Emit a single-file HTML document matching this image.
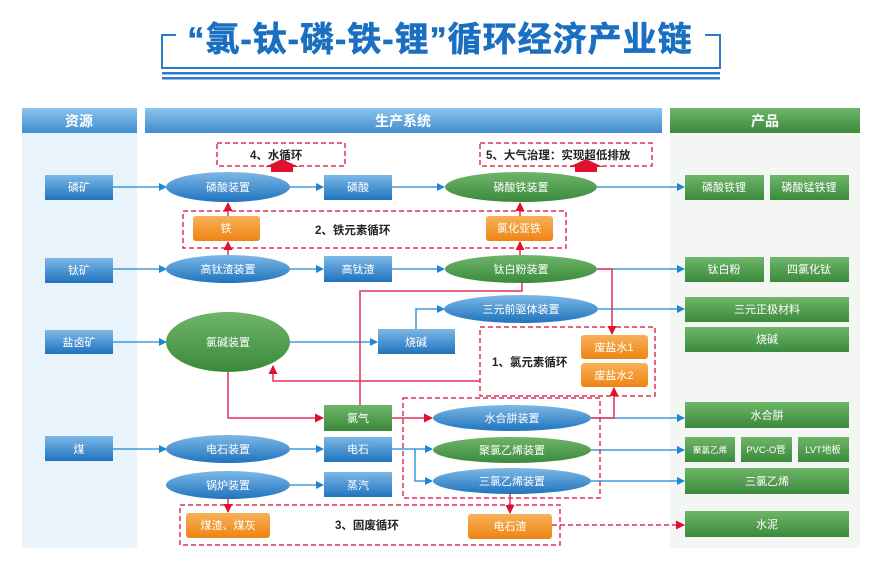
<!DOCTYPE html>
<html><head><meta charset="utf-8"><style>
body{margin:0;background:#fff;}
svg text{font-family:"Liberation Sans","Noto Sans CJK SC",sans-serif;}
</style></head><body>
<svg width="873" height="560" viewBox="0 0 873 560" xmlns="http://www.w3.org/2000/svg">
<defs>
<linearGradient id="bl" x1="0" y1="0" x2="0" y2="1"><stop offset="0" stop-color="#7db8e6"/><stop offset="1" stop-color="#1f73be"/></linearGradient>
<linearGradient id="gr" x1="0" y1="0" x2="0" y2="1"><stop offset="0" stop-color="#6fb56a"/><stop offset="1" stop-color="#3a8a3c"/></linearGradient>
<linearGradient id="or" x1="0" y1="0" x2="0" y2="1"><stop offset="0" stop-color="#f7b159"/><stop offset="1" stop-color="#ee8413"/></linearGradient>
<linearGradient id="hb" x1="0" y1="0" x2="0" y2="1"><stop offset="0" stop-color="#8cc4ec"/><stop offset="1" stop-color="#3f8cd0"/></linearGradient>
<marker id="ab" markerWidth="8" markerHeight="8" refX="7" refY="4" orient="auto" markerUnits="userSpaceOnUse"><path d="M0,0 L8,4 L0,8z" fill="#1d87d4"/></marker>
<marker id="ar" markerWidth="9" markerHeight="9" refX="8" refY="4.5" orient="auto" markerUnits="userSpaceOnUse"><path d="M0,0 L9,4.5 L0,9z" fill="#e01030"/></marker>
</defs>
<!-- title -->
<g stroke="#2a7cc7" stroke-width="2" fill="none">
<path d="M176,35 H162 V68 H720 V35 H705"/>
</g>
<rect x="162" y="72" width="558" height="2.5" fill="#2a7cc7"/>
<rect x="162" y="77" width="558" height="2.5" fill="#2a7cc7"/>
<text x="440" y="51" font-size="34" font-weight="bold" fill="#1a6fc0" text-anchor="middle" letter-spacing="1" stroke="#1a6fc0" stroke-width="0.6">“氯-钛-磷-铁-锂”循环经济产业链</text>
<!-- panels -->
<rect x="22" y="133" width="115" height="415" fill="#e8f3fb"/>
<rect x="670" y="133" width="190" height="415" fill="#f3f6f2"/>
<rect x="22" y="108" width="115" height="25" fill="url(#hb)"/>
<rect x="145" y="108" width="517" height="25" fill="url(#hb)"/>
<rect x="670" y="108" width="190" height="25" fill="url(#gr)"/>
<g font-size="14" fill="#fff" text-anchor="middle" font-weight="bold">
<text x="79" y="126">资源</text><text x="403" y="126">生产系统</text><text x="765" y="126">产品</text>
</g>
<!-- dashed boxes -->
<g fill="none" stroke="#e0305a" stroke-width="1.5" stroke-dasharray="5,3">
<rect x="217" y="143" width="128" height="23"/>
<rect x="480" y="143" width="172" height="23"/>
<rect x="183" y="211" width="383" height="37"/>
<rect x="480" y="327" width="175" height="69"/>
<rect x="403" y="398" width="197" height="100"/>
<rect x="180" y="505" width="380" height="40"/>
</g>
<g font-size="11.5" font-weight="bold" fill="#222">
<text x="250" y="159">4、水循环</text>
<text x="486" y="159">5、大气治理：实现超低排放</text>
<text x="315" y="234">2、铁元素循环</text>
<text x="492" y="366">1、氯元素循环</text>
<text x="335" y="529">3、固废循环</text>
</g>
<!-- blue lines -->
<g stroke="#1d87d4" stroke-width="1.3" fill="none" marker-end="url(#ab)">
<path d="M113,187 H166"/><path d="M290,187 H323"/><path d="M392,187 H444"/><path d="M597,187 H684"/>
<path d="M113,269 H166"/><path d="M290,269 H323"/><path d="M392,269 H444"/><path d="M597,269 H684"/>
<path d="M113,342 H166"/><path d="M290,342 H377"/><path d="M416,329 V309 H444"/><path d="M598,309 H684"/>
<path d="M113,449 H166"/><path d="M290,449 H323"/><path d="M290,485 H323"/>
<path d="M392,449 H432"/><path d="M415,449 V481 H432"/>
<path d="M591,418 H684"/><path d="M591,450 H684"/><path d="M591,481 H684"/>
</g>
<!-- red lines -->
<g stroke="#e0305a" stroke-width="1.5" fill="none">
<path d="M228,372 V418 H323" marker-end="url(#ar)"/>
<path d="M392,418 H432" marker-end="url(#ar)"/>
<path d="M360,405 V291 H522 V283"/>
<path d="M597,269 H612 V334" marker-end="url(#ar)"/>
<path d="M480,381 H273 V366" marker-end="url(#ar)"/>
<path d="M591,418 H614 V388" marker-end="url(#ar)"/>
<path d="M228,216 V203" marker-end="url(#ar)"/>
<path d="M228,256 V242" marker-end="url(#ar)"/>
<path d="M520,255 V242" marker-end="url(#ar)"/>
<path d="M520,216 V203" marker-end="url(#ar)"/>
<path d="M228,499 V512" marker-end="url(#ar)"/>
<path d="M510,494 V513" marker-end="url(#ar)"/>
<path d="M552,525 H684" stroke-dasharray="5,3" marker-end="url(#ar)"/>
</g>
<path d="M271,174 L271,169 L265,169 L282,161 L299,169 L293,169 L293,174Z" fill="#e01030" transform="translate(0,-2)"/>
<path d="M575,174 L575,169 L569,169 L586,161 L603,169 L597,169 L597,174Z" fill="#e01030" transform="translate(0,-2)"/>
<!-- resource boxes -->
<g fill="url(#bl)">
<rect x="45" y="175" width="68" height="25"/><rect x="45" y="258" width="68" height="25"/>
<rect x="45" y="330" width="68" height="24"/><rect x="45" y="436" width="68" height="25"/>
<rect x="324" y="175" width="68" height="25"/><rect x="324" y="256" width="68" height="26"/>
<rect x="378" y="329" width="77" height="25"/><rect x="324" y="437" width="68" height="25"/>
<rect x="324" y="472" width="68" height="25"/>
</g>
<rect x="324" y="405" width="68" height="26" fill="url(#gr)"/>
<!-- ellipses -->
<g fill="url(#bl)">
<ellipse cx="228" cy="187" rx="62" ry="15"/><ellipse cx="228" cy="269" rx="62" ry="14"/>
<ellipse cx="228" cy="449" rx="62" ry="14"/><ellipse cx="228" cy="485" rx="62" ry="14"/>
<ellipse cx="521" cy="309" rx="77" ry="14"/><ellipse cx="512" cy="418" rx="79" ry="13"/>
<ellipse cx="512" cy="481" rx="79" ry="13"/>
</g>
<g fill="url(#gr)">
<ellipse cx="228" cy="342" rx="62" ry="30"/>
<ellipse cx="521" cy="187" rx="76" ry="15"/><ellipse cx="521" cy="269" rx="76" ry="14"/>
<ellipse cx="512" cy="450" rx="79" ry="13"/>
</g>
<!-- orange -->
<g fill="url(#or)">
<rect x="193" y="216" width="67" height="25" rx="3"/><rect x="486" y="216" width="67" height="25" rx="3"/>
<rect x="581" y="335" width="67" height="24" rx="3"/><rect x="581" y="363" width="67" height="24" rx="3"/>
<rect x="186" y="513" width="84" height="25" rx="3"/><rect x="468" y="514" width="84" height="25" rx="3"/>
</g>
<!-- products -->
<g fill="url(#gr)">
<rect x="685" y="175" width="79" height="25"/><rect x="770" y="175" width="79" height="25"/>
<rect x="685" y="257" width="79" height="25"/><rect x="770" y="257" width="79" height="25"/>
<rect x="685" y="297" width="164" height="25"/><rect x="685" y="327" width="164" height="25"/>
<rect x="685" y="402" width="164" height="26"/>
<rect x="685" y="437" width="50" height="25"/><rect x="741" y="437" width="51" height="25"/><rect x="798" y="437" width="51" height="25"/>
<rect x="685" y="468" width="164" height="26"/><rect x="685" y="511" width="164" height="26"/>
</g>
<g font-size="11" fill="#fff" text-anchor="middle">
<text x="79" y="191">磷矿</text><text x="79" y="274">钛矿</text><text x="79" y="346">盐卤矿</text><text x="79" y="453">煤</text>
<text x="228" y="191">磷酸装置</text><text x="228" y="273">高钛渣装置</text><text x="228" y="346">氯碱装置</text>
<text x="228" y="453">电石装置</text><text x="228" y="489">锅炉装置</text>
<text x="358" y="191">磷酸</text><text x="358" y="273">高钛渣</text><text x="416" y="346">烧碱</text>
<text x="358" y="422">氯气</text><text x="358" y="453">电石</text><text x="358" y="489">蒸汽</text>
<text x="521" y="191">磷酸铁装置</text><text x="521" y="273">钛白粉装置</text><text x="521" y="313">三元前驱体装置</text>
<text x="512" y="422">水合肼装置</text><text x="512" y="454">聚氯乙烯装置</text><text x="512" y="485">三氯乙烯装置</text>
<text x="226" y="232">铁</text><text x="519" y="232">氯化亚铁</text>
<text x="614" y="351">废盐水1</text><text x="614" y="379">废盐水2</text>
<text x="228" y="529">煤渣、煤灰</text><text x="510" y="530">电石渣</text>
<text x="724" y="191">磷酸铁锂</text><text x="809" y="191">磷酸锰铁锂</text>
<text x="724" y="273">钛白粉</text><text x="809" y="273">四氯化钛</text>
<text x="767" y="313">三元正极材料</text><text x="767" y="343">烧碱</text>
<text x="767" y="419">水合肼</text>
<text x="710" y="453" font-size="8.5">聚氯乙烯</text><text x="766" y="453" font-size="9.5">PVC-O管</text><text x="823" y="453" font-size="9.5">LVT地板</text>
<text x="767" y="485">三氯乙烯</text><text x="767" y="528">水泥</text>
</g>
</svg>
</body></html>
